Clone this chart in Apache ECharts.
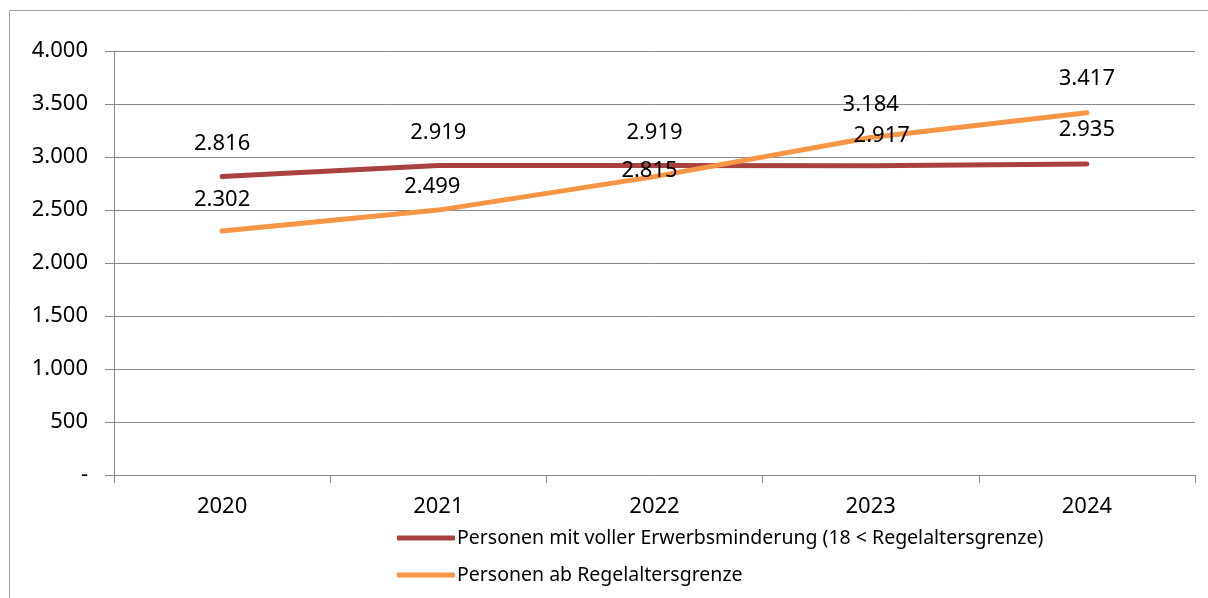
<!DOCTYPE html>
<html>
<head>
<meta charset="utf-8">
<style>
  html, body { margin: 0; padding: 0; background: #fff; }
  #chart { width: 1208px; height: 598px; }
</style>
<script src="https://cdn.jsdelivr.net/npm/echarts@6/dist/echarts.min.js"></script>
</head>
<body>
<div id="chart"></div>
<script>
// Jahre und Personenzahlen
const years = ['2020', '2021', '2022', '2023', '2024'];
const vollerErwerbsminderung = [2816, 2919, 2919, 2917, 2935];
const abRegelaltersgrenze = [2302, 2499, 2815, 3184, 3417];
const seriesNames = [
  'Personen mit voller Erwerbsminderung (18 < Regelaltersgrenze)',
  'Personen ab Regelaltersgrenze'
];

// Verschiebung der Wertbeschriftungen gegenüber dem Datenpunkt (px)
const labelShiftA = [[0, -33], [0, -33], [0, -33], [11, -30], [0, -34]];
const labelShiftB = [[0, -31], [-6, -23], [-5, -6], [0, -33], [0, -34]];

const FONT = 'Noto Sans';
const GRID = '#898989';

function fmt(v) {
  if (v === 0) return '-';
  return String(v).replace(/\B(?=(\d{3})+(?!\d))/g, '.');
}

function withLabels(values, shifts) {
  return values.map((v, i) => ({
    value: v,
    label: { offset: shifts[i] }
  }));
}

const chart = echarts.init(document.getElementById('chart'), null, { renderer: 'canvas' });

function lineSeries(name, values, shifts, color) {
  return {
    name: name,
    type: 'line',
    data: withLabels(values, shifts),
    color: color,
    symbol: 'circle',
    symbolSize: 0,
    showSymbol: true,
    lineStyle: { width: 5, color: color, cap: 'round', join: 'round' },
    label: {
      show: true,
      position: 'inside',
      formatter: p => fmt(p.value),
      fontFamily: FONT,
      fontSize: 22,
      color: '#000'
    },
    emphasis: { disabled: true },
    z: 3
  };
}

chart.setOption({
  animation: false,
  backgroundColor: '#fff',
  graphic: [{
    type: 'rect',
    shape: { x: 9.5, y: 10.5, width: 1300, height: 700 },
    style: { fill: 'none', stroke: '#a0a0a0', lineWidth: 1 },
    silent: true
  }],
  grid: { left: 114, right: 13, top: 51, bottom: 123, containLabel: false },
  legend: {
    orient: 'vertical',
    left: 397,
    top: 527,
    padding: 0,
    itemWidth: 58,
    itemHeight: 5,
    itemGap: 15,
    icon: 'roundRect',
    selectedMode: false,
    data: seriesNames,
    textStyle: { fontFamily: FONT, fontSize: 19.5, lineHeight: 22, color: '#000', padding: [0, 0, 0, -3] }
  },
  xAxis: {
    type: 'category',
    data: years,
    boundaryGap: true,
    axisLine: { show: true, lineStyle: { color: GRID, width: 1 } },
    axisTick: { show: true, length: 8, alignWithLabel: false, lineStyle: { color: GRID } },
    axisLabel: { fontFamily: FONT, fontSize: 22, color: '#000', margin: 21 },
    splitLine: { show: false }
  },
  yAxis: {
    type: 'value',
    min: 0,
    max: 4000,
    interval: 500,
    axisLine: { show: true, lineStyle: { color: GRID, width: 1 } },
    axisTick: { show: true, length: 9, lineStyle: { color: GRID } },
    axisLabel: { fontFamily: FONT, fontSize: 22, color: '#000', margin: 26, formatter: fmt },
    splitLine: { show: true, lineStyle: { color: GRID, width: 1 } }
  },
  series: [
    lineSeries(seriesNames[0], vollerErwerbsminderung, labelShiftA, '#a9423f'),
    lineSeries(seriesNames[1], abRegelaltersgrenze, labelShiftB, '#f79646')
  ]
});
</script>
</body>
</html>
